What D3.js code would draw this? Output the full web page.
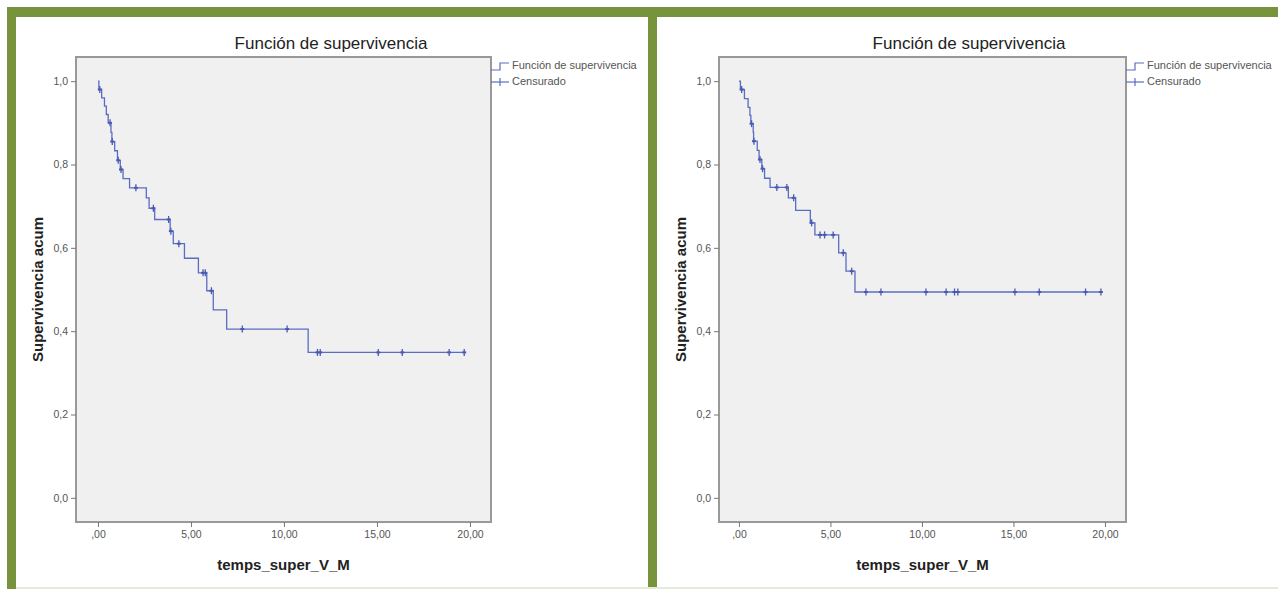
<!DOCTYPE html>
<html>
<head>
<meta charset="utf-8">
<script src="https://cdn.jsdelivr.net/npm/d3@7"></script>
<style>
body { margin: 0; background: #fff; }
text { font-family: "Liberation Sans", Arial, sans-serif; }
</style>
</head>
<body>
<svg id="chart" width="1278" height="589"></svg>
<script>
// datos: tiempo de cada evento y supervivencia acumulada después
var leftEventTimes = [0.05, 0.2, 0.35, 0.45, 0.55, 0.7, 0.75, 0.9, 1.05, 1.2, 1.35, 1.7, 2.6, 2.75, 3.05, 3.88, 4.05, 4.65, 5.4, 5.85, 6.2, 6.92, 11.3];
var leftEventSurv  = [0.98, 0.96, 0.94, 0.92, 0.90, 0.877, 0.855, 0.833, 0.81, 0.788, 0.766, 0.744, 0.72, 0.695, 0.668, 0.64, 0.61, 0.575, 0.54, 0.497, 0.451, 0.405, 0.349];
var leftCensorTimes = [0.1, 0.65, 0.77, 1.09, 1.24, 2.04, 2.98, 3.8, 3.92, 4.35, 5.65, 5.77, 6.1, 7.76, 10.17, 11.8, 11.95, 15.07, 16.36, 18.88, 19.69];

var rightEventTimes = [0.08, 0.3, 0.5, 0.6, 0.65, 0.78, 0.8, 1.0, 1.1, 1.25, 1.4, 1.7, 2.7, 3.1, 3.9, 4.15, 5.45, 5.85, 6.34];
var rightEventSurv  = [0.98, 0.958, 0.937, 0.918, 0.898, 0.877, 0.856, 0.834, 0.812, 0.79, 0.767, 0.745, 0.72, 0.69, 0.66, 0.631, 0.588, 0.544, 0.494];
var rightCensorTimes = [0.15, 0.69, 0.82, 1.15, 1.29, 2.07, 2.62, 2.99, 3.97, 4.43, 4.68, 5.15, 5.7, 6.16, 6.94, 7.76, 10.22, 11.32, 11.78, 11.96, 15.08, 16.41, 18.94, 19.78];

var xTicks = [0, 5, 10, 15, 20];
var xTickLabels = [",00", "5,00", "10,00", "15,00", "20,00"];
var yTicks = [0, 0.2, 0.4, 0.6, 0.8, 1.0];
var yTickLabels = ["0,0", "0,2", "0,4", "0,6", "0,8", "1,0"];

var titleText = "Función de supervivencia";
var legendLabels = ["Función de supervivencia", "Censurado"];
var xTitle = "temps_super_V_M";
var yTitle = "Supervivencia acum";

var svg = d3.select("#chart");
var green = "#77933c";
var lineColor = "#5b6dc2";

// marco verde
svg.append("rect").attr("x", 7).attr("y", 7).attr("width", 1271).attr("height", 10).attr("fill", green);
svg.append("rect").attr("x", 7).attr("y", 7).attr("width", 9).attr("height", 582).attr("fill", green);
svg.append("rect").attr("x", 648).attr("y", 7).attr("width", 9).attr("height", 582).attr("fill", green);
svg.append("rect").attr("x", 16).attr("y", 587).attr("width", 1262).attr("height", 2).attr("fill", "#e4ecd6");

function survAt(times, surv, t) {
  var i = d3.bisectRight(times, t);
  return i === 0 ? 1 : surv[i - 1];
}

function drawPanel(p) {
  var x = d3.scaleLinear().domain(p.xDomain).range([p.x0, p.x1]);
  var y = d3.scaleLinear().domain([-0.058, 1.058]).range([522, 57]);
  var g = svg.append("g");

  g.append("text")
    .attr("x", p.titleX).attr("y", 49)
    .attr("text-anchor", "middle")
    .attr("font-size", 17).attr("fill", "#222")
    .text(titleText);

  g.append("rect")
    .attr("x", p.x0).attr("y", 57)
    .attr("width", p.x1 - p.x0).attr("height", 522 - 57)
    .attr("fill", "#f0f0f0").attr("stroke", "#999").attr("stroke-width", 2);

  // ejes
  var yAxis = d3.axisLeft(y).tickValues(yTicks).tickSize(5).tickPadding(3)
    .tickFormat(function(d, i) { return yTickLabels[i]; });
  var ya = g.append("g").attr("transform", "translate(" + p.x0 + ",0)").call(yAxis);
  ya.select(".domain").remove();
  ya.selectAll("line").attr("stroke", "#777");
  ya.selectAll("text").attr("font-size", 10.5).attr("fill", "#555")
    .style("font-family", "Liberation Sans, Arial, sans-serif");

  var xAxis = d3.axisBottom(x).tickValues(xTicks).tickSize(5).tickPadding(4)
    .tickFormat(function(d, i) { return xTickLabels[i]; });
  var xa = g.append("g").attr("transform", "translate(0,522)").call(xAxis);
  xa.select(".domain").remove();
  xa.selectAll("line").attr("stroke", "#777");
  xa.selectAll("text").attr("font-size", 10.5).attr("fill", "#555")
    .style("font-family", "Liberation Sans, Arial, sans-serif");

  g.append("text")
    .attr("x", (p.x0 + p.x1) / 2).attr("y", 570)
    .attr("text-anchor", "middle")
    .attr("font-size", 15).attr("font-weight", "bold").attr("fill", "#222")
    .text(xTitle);

  g.append("text")
    .attr("transform", "translate(" + (p.x0 - 33) + "," + ((57 + 522) / 2) + ") rotate(-90)")
    .attr("text-anchor", "middle")
    .attr("font-size", 15).attr("font-weight", "bold").attr("fill", "#222")
    .text(yTitle);

  // curva de Kaplan-Meier
  var endT = d3.max(p.censor);
  var pts = [[0, 1]];
  p.times.forEach(function(t, i) { pts.push([t, p.surv[i]]); });
  pts.push([endT, p.surv[p.surv.length - 1]]);

  var line = d3.line()
    .x(function(d) { return x(d[0]); })
    .y(function(d) { return y(d[1]); })
    .curve(d3.curveStepAfter);

  g.append("path").datum(pts)
    .attr("d", line)
    .attr("fill", "none").attr("stroke", lineColor).attr("stroke-width", 1.3);

  var cens = g.selectAll(".cens").data(p.censor).enter().append("g")
    .attr("transform", function(t) {
      return "translate(" + x(t) + "," + y(survAt(p.times, p.surv, t)) + ")";
    });
  cens.append("line").attr("x1", 0).attr("x2", 0).attr("y1", -3.5).attr("y2", 3.5)
    .attr("stroke", "#4a5ab2").attr("stroke-width", 1.3);
  cens.append("line").attr("x1", -2).attr("x2", 2).attr("y1", 0).attr("y2", 0)
    .attr("stroke", "#4a5ab2").attr("stroke-width", 2);

  // leyenda
  var lx = p.x1;
  g.append("path")
    .attr("d", "M" + lx + ",70 H" + (lx + 9) + " V63 H" + (lx + 18))
    .attr("fill", "none").attr("stroke", lineColor).attr("stroke-width", 1.2);
  g.append("line").attr("x1", lx).attr("x2", lx + 18).attr("y1", 82).attr("y2", 82)
    .attr("stroke", lineColor).attr("stroke-width", 1.2);
  g.append("line").attr("x1", lx + 9).attr("x2", lx + 9).attr("y1", 78).attr("y2", 86)
    .attr("stroke", lineColor).attr("stroke-width", 1.2);
  legendLabels.forEach(function(lab, i) {
    g.append("text")
      .attr("x", lx + 21).attr("y", 69 + i * 16)
      .attr("font-size", 11).attr("fill", "#555")
      .text(lab);
  });
}

drawPanel({ x0: 76, x1: 491, xDomain: [-1.18, 21.13], titleX: 331,
  times: leftEventTimes, surv: leftEventSurv, censor: leftCensorTimes });
drawPanel({ x0: 719, x1: 1126, xDomain: [-1.09, 21.15], titleX: 969,
  times: rightEventTimes, surv: rightEventSurv, censor: rightCensorTimes });
</script>
</body>
</html>
